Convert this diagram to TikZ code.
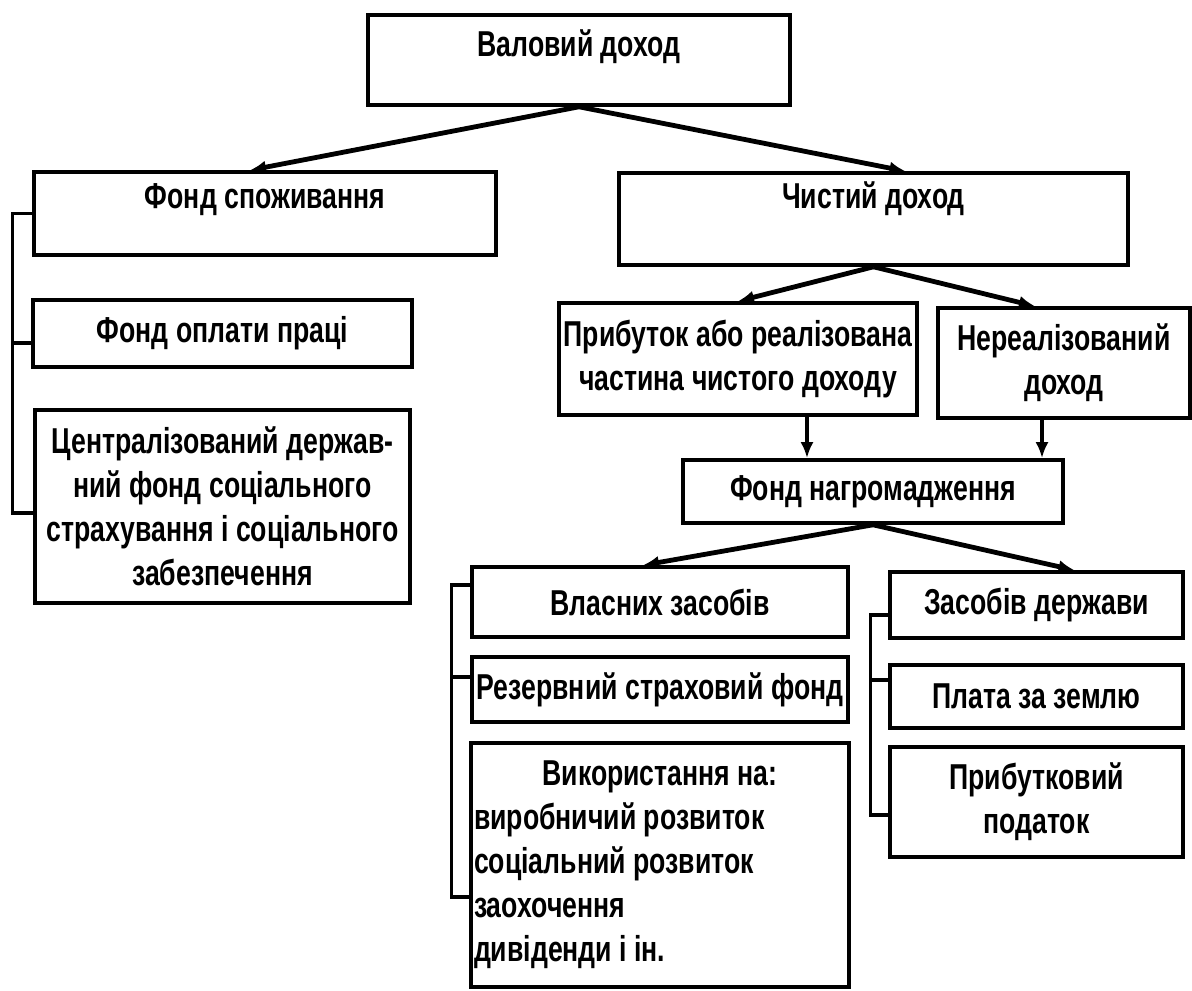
\documentclass[tikz,border=0pt]{standalone}
\usepackage{fontspec}
\setmainfont{Liberation Sans}[FakeStretch=0.74]
\usetikzlibrary{arrows.meta,calc}

\tikzset{every picture/.style={line width=0.75pt}}
\tikzset{
  box/.style={draw, line width=1.8pt, inner sep=1.5pt, align=center,
    font=\fontsize{18}{22}\selectfont\bfseries},
  lift/.style={text depth=#1},
  arr/.style={line width=2.4pt, -{Latex[length=8pt,width=6.5pt]}},
  bracket/.style={line width=1.6pt},
}

\begin{document}
\begin{tikzpicture}[x=0.5pt,y=0.5pt,yscale=-1,xscale=1]
\useasboundingbox (0,0) rectangle (1192,990);

%Rectangles, first level
\node [box, lift=17pt, minimum width=211pt, minimum height=45pt] (gross) at (579,60) {Валовий доход};
\node [box, lift=17pt, minimum width=231pt, minimum height=41.5pt] (cons) at (265,213.5) {Фонд споживання};
\node [box, lift=24pt, minimum width=254.5pt, minimum height=46pt] (net) at (873.5,219) {Чистий доход};

%Rectangles, left column
\node [box, minimum width=189.5pt, minimum height=33.5pt] (wage) at (222.5,333.5) {Фонд оплати праці};
\node [box, minimum width=187.5pt, minimum height=96.5pt] (social) at (222.5,506.5) {Централізований держав-\\ний фонд соціального\\страхування і соціального\\забезпечення};

%Rectangles, right part
\node [box, minimum width=179pt, minimum height=56pt] (profit) at (738,359) {Прибуток або реалізована\\частина чистого доходу};
\node [box, minimum width=126pt, minimum height=55pt] (unreal) at (1064,363) {Нереалізований\\доход};
\node [box, minimum width=190pt, minimum height=31.5pt] (accum) at (873,491.5) {Фонд нагромадження};

\node [box, minimum width=188pt, minimum height=35pt] (own) at (660,602) {Власних засобів};
\node [box, minimum width=188pt, minimum height=32.5pt] (reserve) at (660,689.5) {Резервний страховий фонд};
\node [box, minimum width=188pt, minimum height=122pt, text width=186pt, align=flush left] (use) at (660,865) {\hfill Використання на:\hfill\mbox{}\\виробничий розвиток\\соціальний розвиток\\заохочення\\дивіденди і ін.};

\node [box, minimum width=146.5pt, minimum height=33pt] (state) at (1036.5,605) {Засобів держави};
\node [box, minimum width=146.5pt, minimum height=31.5pt] (land) at (1036.5,696.5) {Плата за землю};
\node [box, minimum width=146.5pt, minimum height=55pt] (tax) at (1036.5,802) {Прибутковий\\податок};

%Arrows
\draw [arr] (gross.south) -- ($(cons.north)+(-15,0)$);
\draw [arr] (gross.south) -- ($(net.north)+(32,0)$);
\draw [arr] (net.south) -- (profit.north);
\draw [arr] (net.south) -- ($(unreal.north)+(-29,0)$);
\coordinate (pdrop) at ($(profit.south)+(69,0)$);
\coordinate (udrop) at ($(unreal.south)+(-22,0)$);
\draw [arr] (pdrop) -- (pdrop |- accum.north);
\draw [arr] (udrop) -- (udrop |- accum.north);
\draw [arr] (accum.south) -- ($(own.north)+(-17,0)$);
\draw [arr] (accum.south) -- ($(state.north)+(38,0)$);

%Brackets
\draw [bracket] (cons.west) -- ++(-20,0) |- ($(social.west)+(0,6.5)$);
\draw [bracket] ($(wage.west)+(0,9.5)$) -- ++(-20,0);
\draw [bracket] ($(own.west)+(0,-17)$) -- ++(-19,0) |- ($(use.west)+(0,32)$);
\draw [bracket] ($(reserve.west)+(0,-12.5)$) -- ++(-19,0);
\draw [bracket] ($(state.west)+(0,10)$) -- ++(-18,0) |- ($(tax.west)+(0,13)$);
\draw [bracket] ($(land.west)+(0,-16.5)$) -- ++(-18,0);

\end{tikzpicture}
\end{document}
